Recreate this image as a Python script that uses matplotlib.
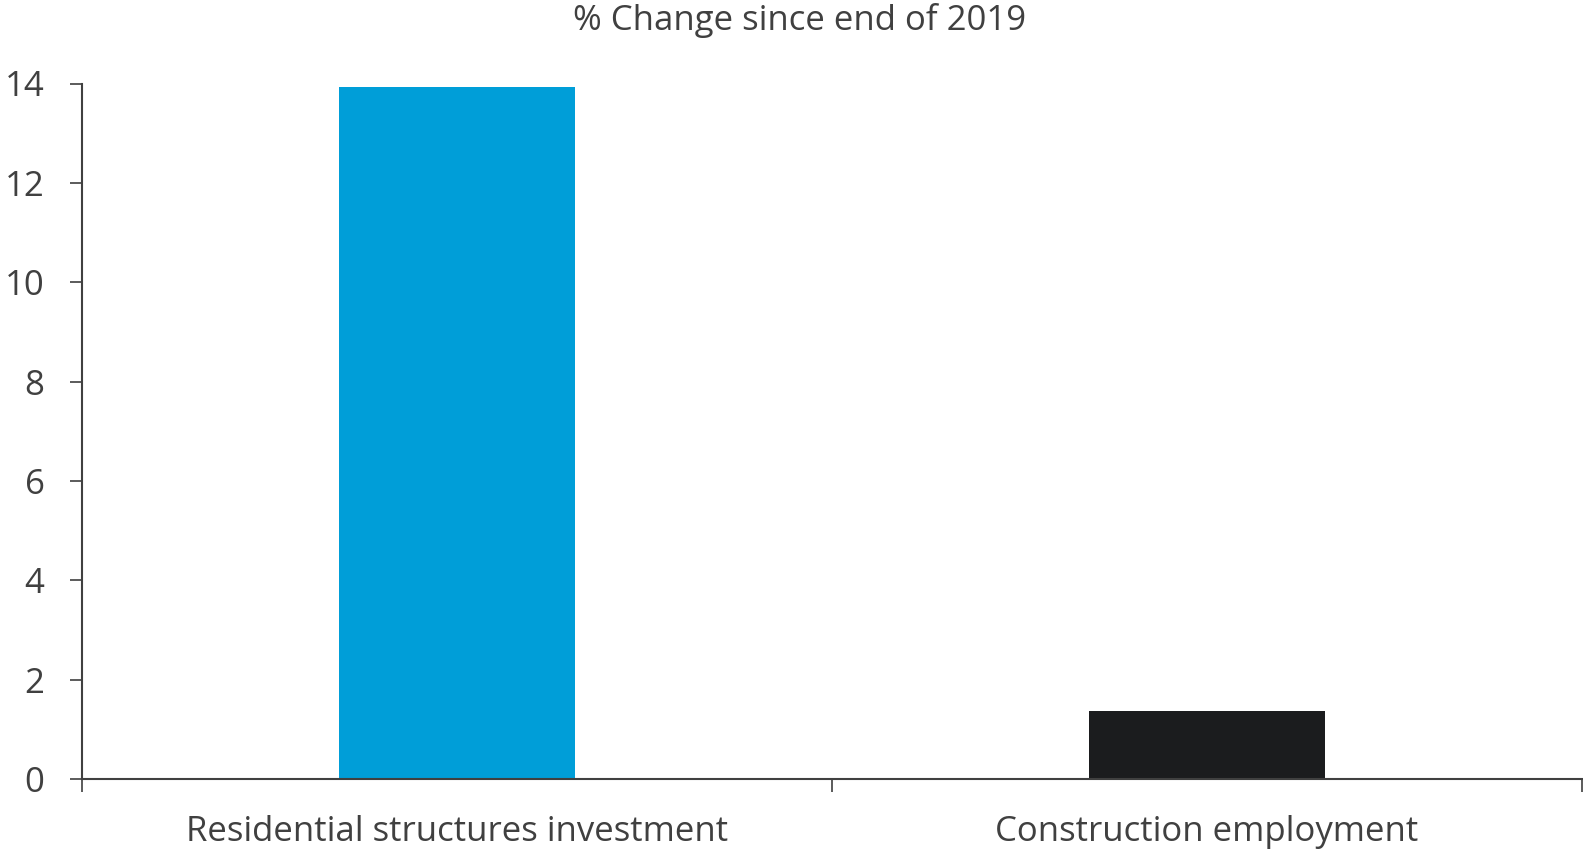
import matplotlib.pyplot as plt

categories = ["Residential structures investment", "Construction employment"]
values = [13.93, 1.36]
colors = ["#009ED8", "#1B1C1E"]
y_ticks = [0, 2, 4, 6, 8, 10, 12, 14]

plt.rcParams["font.family"] = ["Open Sans", "DejaVu Sans"]
text_color = "#404040"

fig = plt.figure(figsize=(15.83, 8.49), dpi=100)
ax = fig.add_axes([82 / 1583, 1 - 779 / 849, 1500 / 1583, (779 - 83.5) / 849])

x = range(len(categories))
ax.bar(x, values, width=0.315, color=colors)

ax.set_xlim(-0.5, len(categories) - 0.5)
ax.set_ylim(0, 14)
ax.set_yticks(y_ticks)
ax.set_xticks(list(x))
ax.set_xticklabels(categories)
ax.set_xticks([-0.5, 0.5, 1.5], minor=True)
ax.tick_params(axis="x", which="major", length=0, pad=26, labelsize=25, labelcolor=text_color)
ax.tick_params(axis="x", which="minor", length=9, width=1.2, color=text_color, direction="out")
ax.tick_params(axis="y", length=9, width=1.2, color=text_color, labelsize=25,
               labelcolor=text_color, pad=18)

for side in ["top", "right"]:
    ax.spines[side].set_visible(False)
for side in ["left", "bottom"]:
    ax.spines[side].set_color(text_color)
    ax.spines[side].set_linewidth(1.5)

# title sits a bit right of centre in the original
fig.text(800 / 1583, 1 - 21 / 849, "% Change since end of 2019", ha="center", va="center",
         fontsize=25, color=text_color)

fig.savefig("out.png", dpi=100)
